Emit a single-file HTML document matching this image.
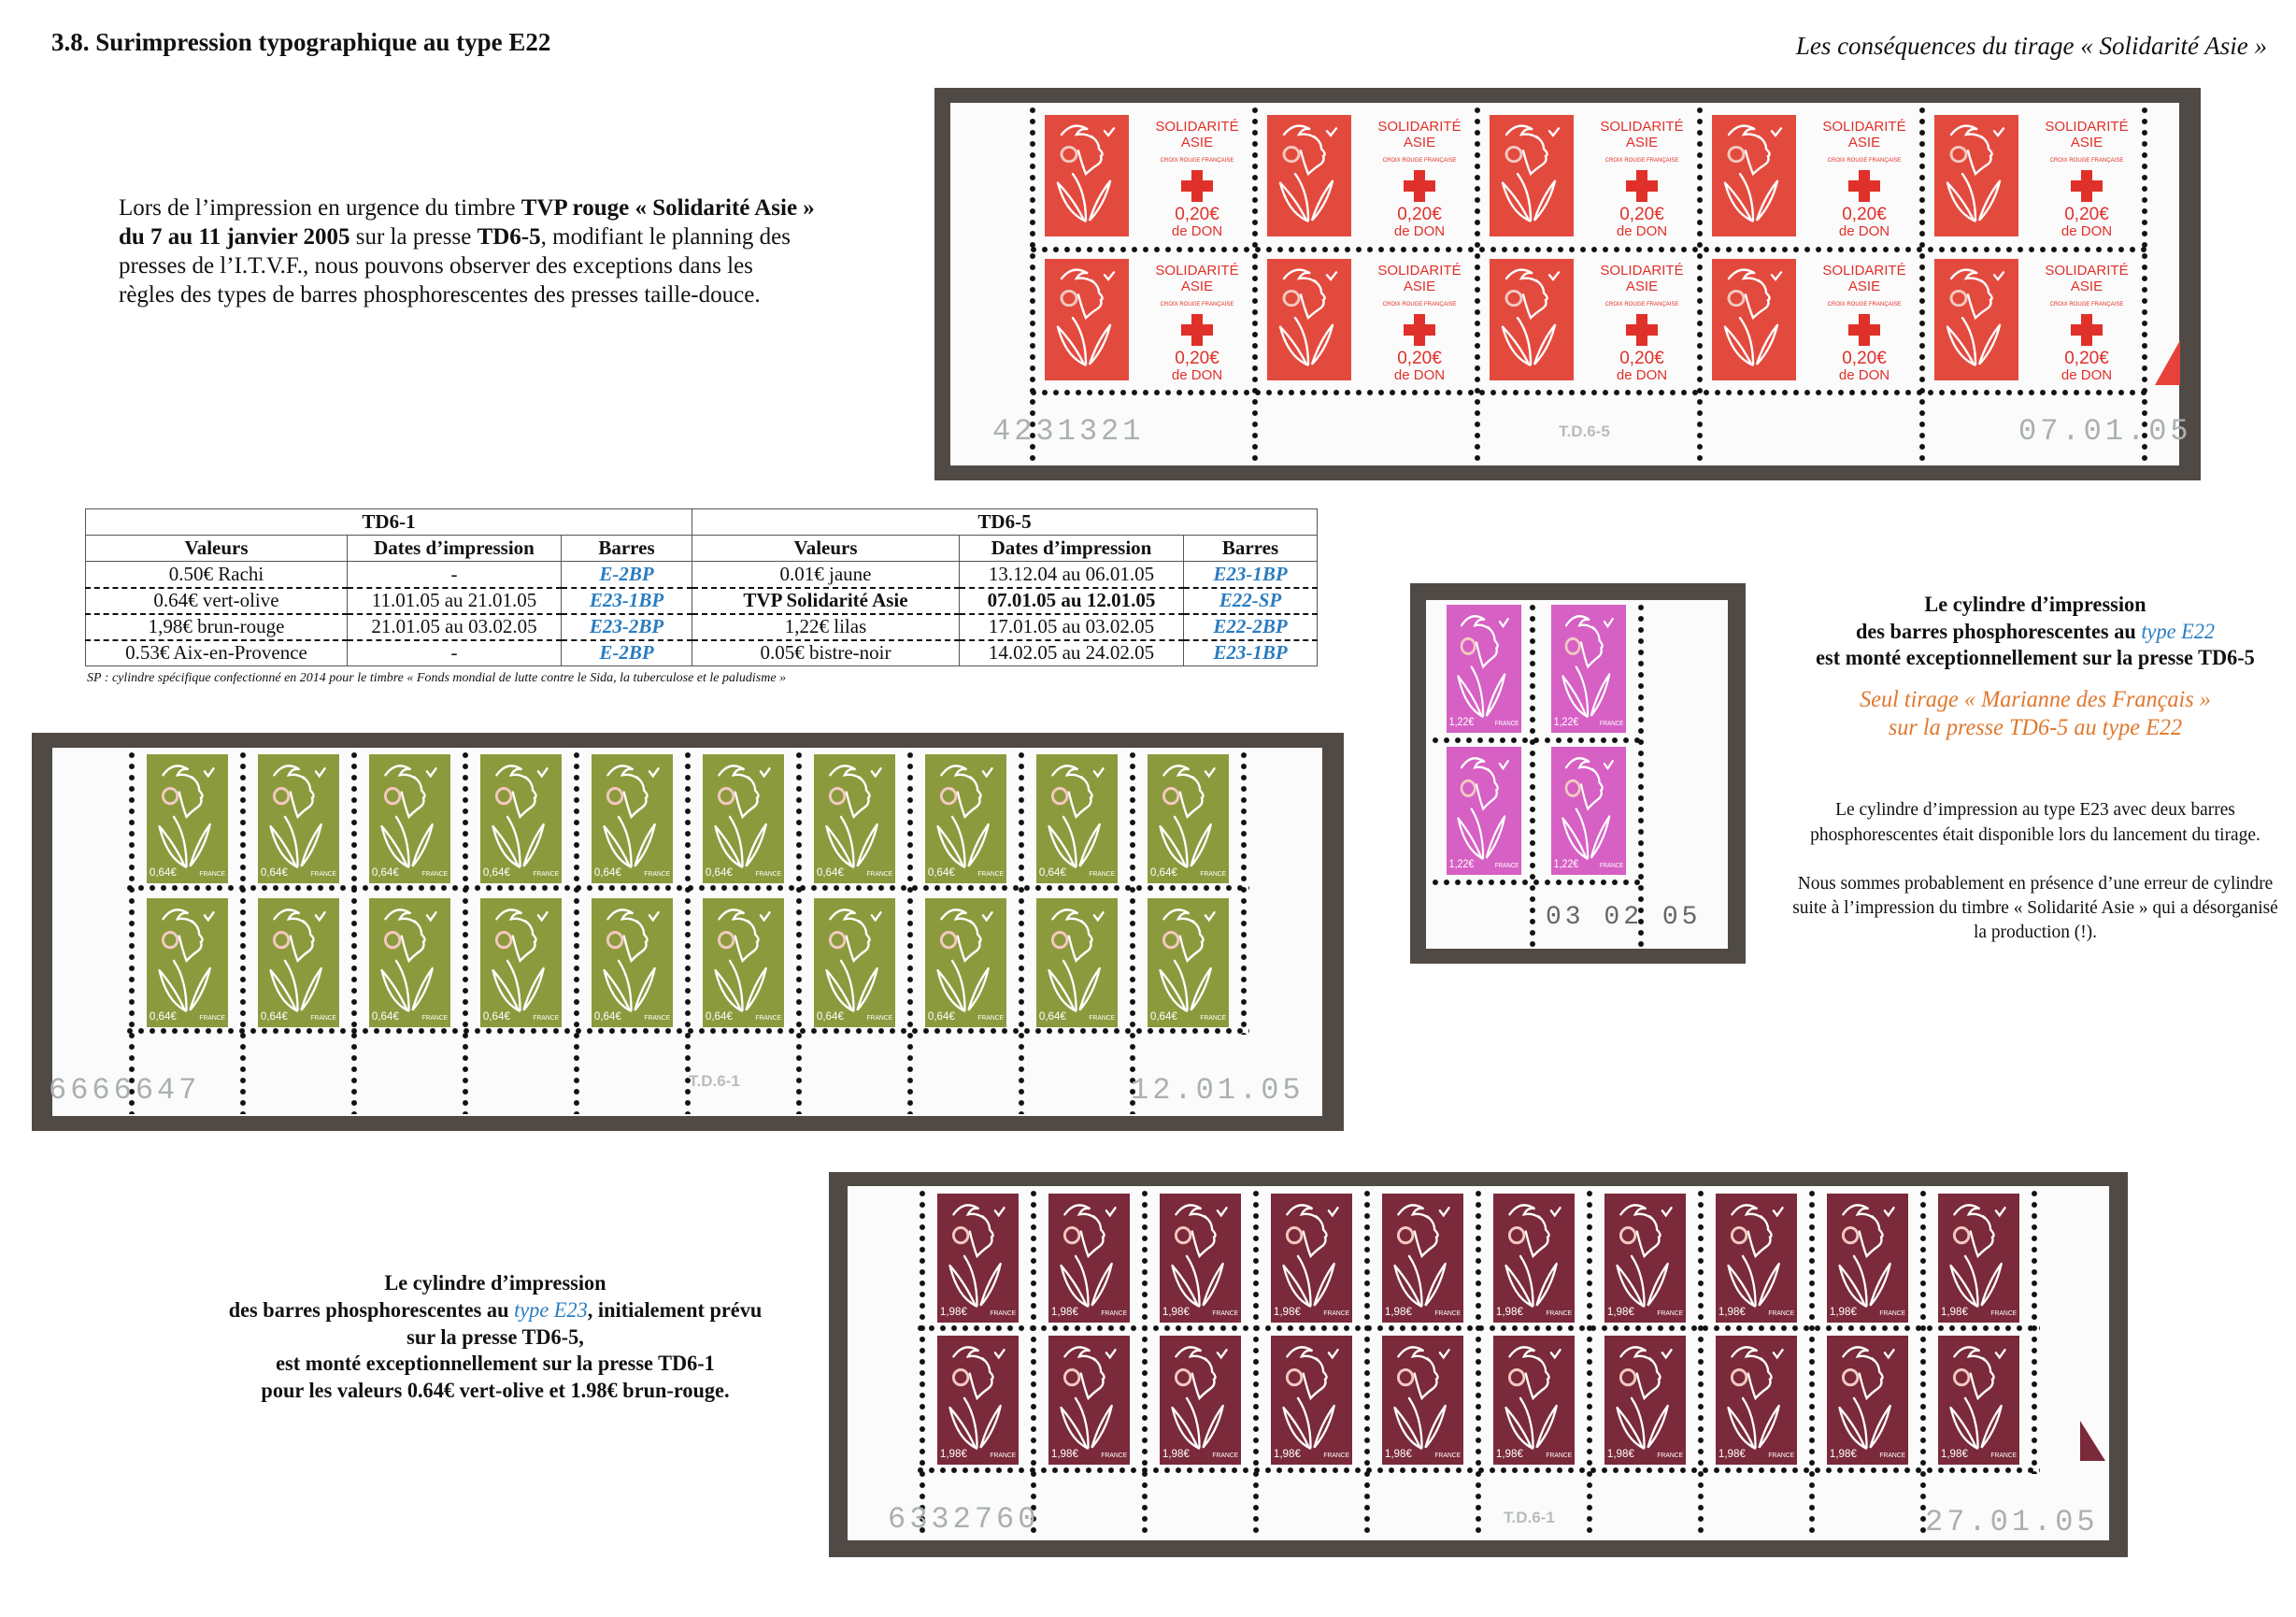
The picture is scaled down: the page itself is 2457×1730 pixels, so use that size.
<!DOCTYPE html>
<html><head><meta charset="utf-8">
<style>
*{margin:0;padding:0;box-sizing:border-box}
body{width:2457px;height:1730px;background:#fff;position:relative;overflow:hidden;font-family:"Liberation Serif",serif;color:#111}
.a{position:absolute}
.frame{position:absolute;background:#4f4a45}
.sheet{position:absolute;background:#fbfbfb}
.vp{position:absolute;width:8px;background:radial-gradient(circle,#111 2.6px,transparent 3.3px) 0 0/8px 12px repeat-y}
.hp{position:absolute;height:8px;background:radial-gradient(circle,#111 2.6px,transparent 3.3px) 0 0/12px 8px repeat-x}
.num{position:absolute;font-family:"Liberation Mono",monospace;color:#aab0b0;font-size:32px;letter-spacing:4px}
.td{position:absolute;font-family:"Liberation Sans",sans-serif;color:#b8bcbc;font-size:17px;font-weight:bold}
.ln{position:absolute;white-space:nowrap;text-align:center;transform-origin:center}
.cx{transform:scaleX(.97)}
table{border-collapse:collapse;position:absolute;left:91px;top:544px;width:1319px;font-size:21px;text-align:center}
td{border:1px solid #555;height:28px;padding:0;white-space:nowrap}
.b{color:#2a7cc0;font-style:italic;font-weight:bold}
.dt td{border-top:2px dashed #111}
</style></head><body>

<div class="a" style="left:55px;top:30px;font-size:27px;font-weight:bold">3.8. Surimpression typographique au type E22</div>
<div class="a" style="right:31px;top:34px;font-size:27px;font-style:italic">Les conséquences du tirage « Solidarité Asie »</div>

<div class="a" style="left:127px;top:207px;font-size:25px;line-height:31px">
Lors de l’impression en urgence du timbre <b>TVP rouge « Solidarité Asie »</b><br>
<b>du 7 au 11 janvier 2005</b> sur la presse <b>TD6-5</b>, modifiant le planning des<br>
presses de l’I.T.V.F., nous pouvons observer des exceptions dans les<br>
règles des types de barres phosphorescentes des presses taille-douce.</div>

<!-- red sheet -->
<div class="frame" style="left:1000px;top:94px;width:1355px;height:420px"></div>
<div class="sheet" style="left:1017px;top:110px;width:1315px;height:388px"></div>
<div id="red"></div>
<div class="num" style="left:1062px;top:443px">4231321</div>
<div class="td" style="left:1668px;top:452px">T.D.6-5</div>
<div class="num" style="left:2160px;top:443px">07.01.05</div>
<svg class="a" style="left:2306px;top:364px" width="27" height="48"><polygon points="0,48 27,48 27,0" fill="#e8403a"/></svg>

<!-- table -->
<table>
<tr style="font-weight:bold"><td colspan="3" style="border-top:1px solid #555">TD6-1</td><td colspan="3">TD6-5</td></tr>
<tr style="font-weight:bold"><td style="width:280px">Valeurs</td><td style="width:229px">Dates d’impression</td><td style="width:140px">Barres</td><td style="width:286px">Valeurs</td><td style="width:240px">Dates d’impression</td><td>Barres</td></tr>
<tr><td>0.50€ Rachi</td><td>-</td><td class="b">E-2BP</td><td>0.01€ jaune</td><td>13.12.04 au 06.01.05</td><td class="b">E23-1BP</td></tr>
<tr class="dt"><td>0.64€ vert-olive</td><td>11.01.05 au 21.01.05</td><td class="b">E23-1BP</td><td style="font-weight:bold">TVP Solidarité Asie</td><td style="font-weight:bold">07.01.05 au 12.01.05</td><td class="b">E22-SP</td></tr>
<tr class="dt"><td>1,98€ brun-rouge</td><td>21.01.05 au 03.02.05</td><td class="b">E23-2BP</td><td>1,22€ lilas</td><td>17.01.05 au 03.02.05</td><td class="b">E22-2BP</td></tr>
<tr class="dt"><td>0.53€ Aix-en-Provence</td><td>-</td><td class="b">E-2BP</td><td>0.05€ bistre-noir</td><td>14.02.05 au 24.02.05</td><td class="b">E23-1BP</td></tr>
</table>
<div class="a" style="left:93px;top:718px;font-size:14px;font-style:italic">SP : cylindre spécifique confectionné en 2014 pour le timbre « Fonds mondial de lutte contre le Sida, la tuberculose et le paludisme »</div>

<!-- lilac sheet -->
<div class="frame" style="left:1509px;top:624px;width:359px;height:407px"></div>
<div class="sheet" style="left:1526px;top:642px;width:323px;height:373px"></div>
<div id="lil"></div>
<div class="num" style="left:1654px;top:966px;color:#666;font-size:28px">03 02 05</div>

<div class="ln cx" style="left:1828px;width:700px;top:633px;font-size:23px;font-weight:bold;line-height:28.5px">Le cylindre d’impression<br>des barres phosphorescentes au <i style="color:#2a7cc0;font-weight:normal">type E22</i><br>est monté exceptionnellement sur la presse TD6-5</div>
<div class="ln cx" style="left:1828px;width:700px;top:734px;font-size:25px;font-style:italic;color:#e0782e;line-height:30px">Seul tirage « Marianne des Français »<br>sur la presse TD6-5 au type E22</div>
<div class="ln cx" style="left:1808px;width:740px;top:853px;font-size:20px;line-height:27px">Le cylindre d’impression au type E23 avec deux barres<br>phosphorescentes était disponible lors du lancement du tirage.</div>
<div class="ln cx" style="left:1788px;width:780px;top:932px;font-size:20px;line-height:26px">Nous sommes probablement en présence d’une erreur de cylindre<br>suite à l’impression du timbre « Solidarité Asie » qui a désorganisé<br>la production (!).</div>

<!-- green sheet -->
<div class="frame" style="left:34px;top:784px;width:1404px;height:426px"></div>
<div class="sheet" style="left:56px;top:800px;width:1359px;height:394px"></div>
<div id="grn"></div>
<div class="num" style="left:52px;top:1148px">6666647</div>
<div class="td" style="left:737px;top:1147px">T.D.6-1</div>
<div class="num" style="left:1210px;top:1148px">12.01.05</div>

<!-- brown sheet -->
<div class="frame" style="left:887px;top:1254px;width:1390px;height:412px"></div>
<div class="sheet" style="left:907px;top:1269px;width:1350px;height:379px"></div>
<div id="brn"></div>
<div class="num" style="left:950px;top:1607px">6332760</div>
<div class="td" style="left:1609px;top:1614px">T.D.6-1</div>
<div class="num" style="left:2060px;top:1610px">27.01.05</div>
<svg class="a" style="left:2226px;top:1520px" width="27" height="43"><polygon points="0,43 27,43 0,0" fill="#7a2a3a"/></svg>

<div class="ln cx" style="left:180px;width:700px;top:1359px;font-size:23px;font-weight:bold;line-height:28.8px">Le cylindre d’impression<br>des barres phosphorescentes au <i style="color:#2a7cc0;font-weight:normal">type E23</i>, initialement prévu<br>sur la presse TD6-5,<br>est monté exceptionnellement sur la presse TD6-1<br>pour les valeurs 0.64€ vert-olive et 1.98€ brun-rouge.</div>

<script>
function stamp(x,y,w,h,c,val){
 return `<svg class="a" style="left:${x}px;top:${y}px" width="${w}" height="${h}" viewBox="0 0 90 136" preserveAspectRatio="none">
<rect width="90" height="136" fill="${c}"/>
<g fill="none" stroke="#fff" stroke-width="2.4" stroke-linecap="round">
<path d="M18 22 Q30 6 46 16 Q38 14 34 22 Q44 20 52 26"/>
<circle cx="26" cy="44" r="8" stroke="#f3c9c0" stroke-width="3"/>
<path d="M50 24 Q58 30 58 38 Q64 44 60 46 Q62 52 56 56 Q50 60 44 66 Q40 56 36 40"/>
<path d="M14 76 Q22 108 42 118 Q32 96 14 76"/>
<path d="M70 74 Q64 100 48 118 Q56 92 70 74"/>
<path d="M30 66 Q44 86 44 118"/>
<path d="M64 18 l4 5 l6 -8"/>
</g>
${val?`<text x="3" y="128" fill="#fff" font-family="Liberation Sans,sans-serif" font-size="12">${val}</text><text x="87" y="128" fill="#fff" text-anchor="end" font-family="Liberation Sans,sans-serif" font-size="7">FRANCE</text>`:''}
</svg>`;}
function vp(x,y1,y2){return `<div class="vp" style="left:${x-4}px;top:${y1}px;height:${y2-y1}px"></div>`}
function hp(y,x1,x2){return `<div class="hp" style="left:${x1}px;top:${y-4}px;width:${x2-x1}px"></div>`}
let s='';
for(let k=0;k<5;k++){
 const ox=1105+k*238;
 s+=vp(ox,112,497);
 for(let r=0;r<2;r++){
  const y=r?277:123;
  s+=stamp(ox+13,y,90,130,'#e34a3e','');
  s+=`<div class="a" style="left:${ox+108}px;top:${y+5}px;width:136px;text-align:center;color:#e0302a;font-family:'Liberation Sans',sans-serif;line-height:1.1">
<div style="font-size:15px">SOLIDARITÉ<br>ASIE</div><div style="font-size:6px;margin-top:8px">CROIX ROUGE FRANÇAISE</div>
<div style="position:relative;width:34px;height:34px;margin:6px auto 4px"><div style="position:absolute;left:11px;top:0;width:12px;height:34px;background:#e0302a"></div><div style="position:absolute;left:0;top:11px;width:34px;height:12px;background:#e0302a"></div></div>
<div style="font-size:19px">0,20€</div><div style="font-size:15px">de DON</div></div>`;
 }
}
s+=vp(2295,112,497)+hp(267,1100,2300)+hp(420,1100,2300);
document.getElementById('red').innerHTML=s;
function sheet(id,x0,ys,h,perfs,top,bot,c,val){
 let t='';
 for(let i=0;i<10;i++){const x=x0+i*119;t+=vp(x-16,top,bot);for(const y of ys)t+=stamp(x,y,87,h,c,val);}
 t+=vp(x0+10*119-16,top,perfs[perfs.length-1]+4);
 for(const p of perfs)t+=hp(p,x0-24,x0+10*119-10);
 document.getElementById(id).innerHTML=t;
}
sheet('grn',157,[807,961],138,[950,1103],802,1192,'#8c9a3e','0,64€');
sheet('brn',1003,[1277,1429],138,[1421,1573],1271,1646,'#7a2a3a','1,98€');
let l='';
for(const x of [1548,1660])for(const y of [647,799])l+=stamp(x,y,80,137,'#d660c4','1,22€');
l+=vp(1640,644,1014)+vp(1756,644,1014)+hp(792,1530,1760)+hp(944,1530,1760);
document.getElementById('lil').innerHTML=l;
</script>
</body></html>
